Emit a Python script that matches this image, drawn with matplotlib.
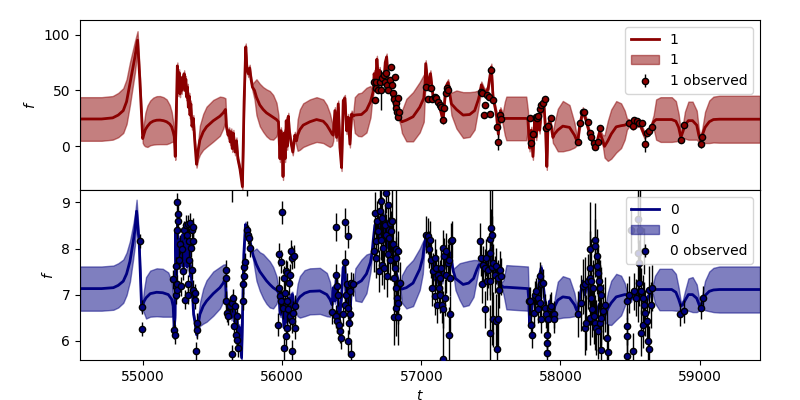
import matplotlib
matplotlib.use("Agg")
import matplotlib.pyplot as plt
import numpy as np

# GP mean / std for band "1" (top)
tg1 = [54545, 54700, 54780, 54820, 54856, 54880, 54904, 54925, 54940, 54959, 54975, 54996,
       55005, 55015, 55030, 55050, 55072, 55096, 55120, 55145, 55168, 55190, 55204, 55215, 55223, 55230,
       55245, 55252, 55258, 55264, 55270, 55276, 55282, 55288, 55294, 55300, 55306, 55312, 55318, 55324,
       55330, 55336, 55342, 55350, 55360, 55370, 55383,
       55395, 55407, 55431, 55455, 55503, 55551, 55575, 55591,
       55598, 55610, 55618, 55625, 55633, 55640, 55648, 55660, 55670, 55680, 55695, 55713, 55725, 55737,
       55745, 55755, 55765, 55775, 55785,
       55800, 55814, 55838, 55862, 55886, 55910, 55934, 55958, 55972,
       55983, 55990, 55998, 56005, 56013, 56020, 56028, 56035, 56043, 56050, 56060, 56075, 56090, 56102,
       56110, 56126, 56150, 56198, 56246, 56294, 56320, 56342, 56358, 56366,
       56378, 56390, 56402, 56414, 56426, 56438, 56450, 56462, 56474, 56486, 56498, 56510,
       56521, 56545, 56569, 56605, 56634, 56645,
       56655, 56660, 56670, 56680, 56690, 56700, 56710, 56720, 56730, 56740, 56750, 56760, 56770, 56780,
       56790, 56800, 56810, 56820, 56835, 56850,
       56860, 56892, 56940, 56988, 57017, 57026,
       57031, 57048, 57065, 57084, 57108, 57132, 57156, 57175, 57192, 57200,
       57216, 57252, 57300, 57347, 57383, 57410, 57425,
       57431, 57455, 57479, 57503, 57515, 57539, 57553, 57568, 57585,
       57600, 57611, 57754, 57766,
       57778, 57790, 57802, 57814, 57826, 57838, 57850, 57862, 57879, 57893, 57902, 57910, 57922, 57934, 57946,
       57957, 57981, 58017, 58065, 58101, 58118,
       58125, 58137, 58161, 58185, 58209, 58233, 58257, 58281, 58305,
       58317, 58341, 58365, 58401, 58436, 58462, 58478,
       58496, 58520, 58544, 58568, 58604, 58628, 58652, 58670,
       58688, 58720, 58800, 58830, 58850, 58866, 58880, 58895, 58920, 58950, 58980, 58995, 59006, 59020,
       59040, 59070, 59100, 59143, 59435]
mu1 = [24.5, 24.5, 25.5, 28, 32, 40, 56, 70, 80, 95, 60, 7,
       11, 15, 18, 21, 22.6, 23.4, 23.5, 23, 22, 20, 17.5, 13, 8.6, -9,
       72, 48, 66, 47, 59, 50, 62, 53, 65, 50, 60, 44, 53, 35,
       45, 28, 38, 18, 25, 5, -16,
       -3.3, 5.6, 13, 17.5, 22.9, 27, 30, 33,
       17.5, 10, 14, 4, 13, -2, 11.7, -5, 5, -11, -20, -36, 40, 89,
       70, 65, 70, 60, 53,
       50, 44, 37, 33, 30, 28, 26, 24, 22,
       -11, 14, 0, -27, 12, -11, 23, 0, 27, 14, 5, -5, 10, 5,
       10, 15, 19, 22, 24, 22.5, 19, 14.5, 11, 10,
       32, 8, 38, -1, -19, 41, 43, 14, 26, 2, 29, 27,
       28, 28.3, 28.5, 32.4, 40, 45,
       50, 65, 55, 78, 60, 68, 55, 62, 58, 75, 80, 60, 55, 50,
       45, 40, 35, 30, 28, 24,
       22, 23.5, 26.5, 35, 43, 55,
       74, 53, 65, 44, 41, 35, 23, 53, 57, 50,
       38, 33, 28, 28.5, 32, 42, 50,
       55, 48, 51, 71, 44, 29, 11, 32, 25,
       25, 25, 25, 24,
       -1.5, 14.5, -9, 23, 8.6, 26, 14.5, 32, 41, 14.5, -18, 17.5, 23, 17, 8,
       11, 14.6, 18.1, 17, 10, 5,
       5, 17.5, 32, 23, 11.6, 3, 1, 13, 5,
       0, 5, 11, 17.5, 18.5, 19, 20,
       21, 18, 20, 21, 10, 13, 17, 22,
       24, 24, 24, 22.5, 17, 8, 13, 19, 23, 23, 19, 10, 5.6, 10,
       17, 22, 24, 24.3, 24.3]
sd1 = [19.5, 19.5, 19.5, 19.8, 20, 20, 19, 16, 14, 8, 5, 4,
       10, 15, 18.5, 20, 21, 21.5, 21.5, 21, 20, 17, 13.5, 9, 5, 3,
       3, 3, 3, 3, 3, 3, 3, 3, 3, 3, 3, 3, 3, 3,
       3, 3, 3, 3, 3, 3, 3,
       8, 13, 16, 18, 18.6, 17.5, 14, 10,
       3, 3, 3, 3, 3, 3, 3, 3, 3, 3, 3, 3, 3, 3,
       3, 3, 3, 3, 3,
       8, 16, 19, 20, 21, 21.5, 20, 15, 6,
       3, 3, 3, 3, 3, 3, 3, 3, 3, 3, 3, 3, 3, 5,
       14, 18, 19.5, 20, 20, 19.5, 18, 15, 10, 5,
       3, 3, 3, 3, 3, 3, 3, 3, 3, 3, 3, 3,
       16, 19, 19.5, 20, 14, 5,
       3, 3, 3, 3, 3, 3, 3, 3, 3, 3, 3, 3, 3, 3,
       3, 3, 3, 3, 3, 5,
       10, 19, 22, 22.5, 21, 8,
       3, 3, 3, 3, 3, 3, 3, 3, 3, 5,
       10, 17, 20.5, 20, 17, 8, 4,
       3, 3, 3, 3, 3, 3, 3, 3, 5,
       15, 19.5, 19.5, 8,
       3, 3, 3, 3, 3, 3, 3, 3, 3, 3, 3, 3, 3, 3, 5,
       10, 19, 22.5, 20, 11, 4,
       3, 3, 3, 3, 3, 3, 3, 3, 5,
       10, 18, 22, 23, 20, 13, 5,
       3, 3, 3, 3, 3, 3, 3, 6,
       18, 20, 20, 18, 12, 5, 6, 12, 17, 17, 13, 6, 3, 6,
       14, 19, 20.5, 21, 21]

# GP mean / std for band "0" (bottom)
tg0 = [54545, 54700, 54785, 54820, 54856, 54880, 54904, 54925, 54940, 54952, 54971, 54988,
       54995, 55005, 55020, 55050, 55096, 55140, 55180, 55204, 55215, 55222,
       55228, 55234, 55240, 55246, 55252, 55258, 55264, 55270, 55276, 55283, 55290, 55296, 55302, 55308,
       55314, 55320, 55326, 55332, 55338, 55344, 55350, 55356, 55362, 55372, 55383,
       55395, 55407, 55431, 55455, 55503, 55551, 55575, 55590,
       55598, 55610, 55623, 55635, 55647, 55659, 55671, 55680, 55690, 55700, 55707, 55715, 55723, 55735,
       55745, 55755, 55766, 55778, 55790,
       55814, 55838, 55862, 55886, 55910, 55934, 55958, 55972,
       55977, 55983, 55989, 55995, 56001, 56007, 56013, 56019, 56025, 56031, 56037, 56043, 56049, 56055,
       56061, 56067, 56073, 56081, 56090,
       56100, 56110, 56126, 56160, 56198, 56270, 56320, 56342, 56358,
       56366, 56378, 56389, 56400, 56409, 56418, 56425, 56437, 56449, 56461, 56473, 56485, 56497, 56509, 56515,
       56525, 56569, 56605, 56634, 56645,
       56653, 56665, 56677, 56689, 56701, 56713, 56725, 56737, 56749, 56761, 56773, 56785, 56797, 56809,
       56821, 56833, 56845, 56850,
       56860, 56892, 56940, 56988, 57010, 57022,
       57031, 57043, 57055, 57067, 57079, 57091, 57103, 57115, 57127, 57139, 57151, 57163, 57175, 57187,
       57199, 57211, 57223, 57230,
       57245, 57275, 57300, 57340, 57375, 57400, 57415,
       57431, 57443, 57455, 57467, 57479, 57491, 57503, 57515, 57527, 57539, 57551, 57563, 57575, 57590,
       57611, 57766,
       57772, 57778, 57790, 57802, 57814, 57826, 57838, 57850, 57862, 57874, 57886, 57898, 57910, 57922,
       57934, 57950,
       57960, 57981, 58017, 58065, 58101, 58118,
       58125, 58137, 58149, 58161, 58173, 58185, 58197, 58209, 58221, 58233, 58245, 58257, 58269, 58281,
       58293, 58305, 58310,
       58320, 58341, 58365, 58401, 58436, 58462, 58478,
       58490, 58508, 58520, 58532, 58544, 58556, 58568, 58580, 58592, 58604, 58616, 58628, 58640, 58652, 58664,
       58680, 58712, 58800, 58830, 58850, 58866, 58880, 58895, 58920, 58950, 58980, 58995, 59006, 59020,
       59040, 59070, 59100, 59143, 59435]
mu0 = [7.13, 7.13, 7.15, 7.2, 7.29, 7.45, 7.72, 8.1, 8.4, 8.81, 8.09, 6.71,
       6.75, 6.85, 6.93, 7.02, 7.05, 7.04, 7.0, 6.9, 6.75, 6.28,
       6.5, 8.37, 7.4, 8.6, 7.7, 8.2, 7.6, 8.1, 7.7, 8.3, 7.6, 8.2, 7.8, 8.4,
       7.6, 8.2, 7.7, 8.0, 7.4, 7.6, 7.1, 6.9, 6.57, 6.4, 6.13,
       6.35, 6.57, 6.75, 6.86, 7.02, 7.15, 7.25, 7.36,
       6.86, 6.6, 6.75, 6.5, 6.8, 6.4, 6.6, 6.2, 6.3, 5.9, 5.63, 6.8, 7.87, 8.52,
       8.3, 8.4, 8.16, 8.0, 7.85,
       7.65, 7.5, 7.4, 7.3, 7.22, 7.15, 7.1, 7.05,
       6.93, 6.6, 6.57, 7.0, 6.93, 6.5, 6.28, 6.9, 6.78, 6.4, 6.42, 6.9, 6.93, 6.5,
       6.57, 7.0, 7.0, 6.8, 6.71,
       6.8, 6.88, 6.95, 7.03, 7.07, 7.08, 7.0, 6.9, 6.78,
       7.15, 6.86, 7.44, 6.9, 6.42, 6.7, 6.93, 7.58, 7.65, 6.71, 7.15, 6.42, 7.22, 7.22, 7.22,
       7.22, 7.3, 7.45, 7.7, 7.9,
       8.16, 8.5, 8.59, 8.2, 8.3, 8.8, 8.74, 8.3, 8.01, 8.6, 8.45, 8.1, 7.87, 7.6,
       7.44, 7.3, 7.15, 7.15,
       7.12, 7.15, 7.25, 7.55, 7.8, 8.1,
       8.23, 8.0, 8.1, 7.8, 7.6, 7.7, 7.3, 7.4, 7.2, 7.5, 7.3, 7.6, 7.7, 7.9,
       7.72, 7.9, 7.6, 7.5,
       7.35, 7.28, 7.22, 7.25, 7.35, 7.55, 7.65,
       7.65, 7.5, 7.6, 7.51, 7.7, 7.9, 8.01, 7.6, 7.44, 7.5, 7.3, 7.15, 7.2, 7.16,
       7.16, 7.13,
       6.9, 6.35, 6.6, 6.93, 6.8, 7.15, 6.9, 7.44, 7.58, 7.29, 6.9, 6.71, 6.6, 6.86,
       6.7, 6.6,
       6.75, 6.88, 6.95, 6.93, 6.78, 6.65,
       6.65, 6.93, 7.1, 7.29, 7.0, 7.15, 7.3, 6.86, 7.0, 6.71, 6.9, 6.57, 6.7, 6.8,
       6.6, 6.57, 6.55,
       6.55, 6.7, 6.82, 6.95, 6.98, 7.0, 7.0,
       7.0, 6.9, 7.05, 7.0, 6.95, 7.1, 7.07, 6.9, 7.0, 6.93, 6.8, 6.95, 7.0, 7.05, 7.11,
       7.11, 7.11, 7.11, 7.05, 6.9, 6.75, 6.78, 6.87, 7.0, 7.0, 6.92, 6.8, 6.71, 6.85,
       6.98, 7.07, 7.1, 7.11, 7.11]
sd0 = [0.48, 0.48, 0.48, 0.48, 0.47, 0.46, 0.44, 0.38, 0.33, 0.25, 0.1, 0.08,
       0.08, 0.25, 0.45, 0.5, 0.52, 0.52, 0.48, 0.38, 0.2, 0.1,
       0.06, 0.06, 0.06, 0.06, 0.06, 0.06, 0.06, 0.06, 0.06, 0.06, 0.06, 0.06, 0.06, 0.06,
       0.06, 0.06, 0.06, 0.06, 0.06, 0.06, 0.06, 0.06, 0.06, 0.06, 0.06,
       0.15, 0.25, 0.38, 0.45, 0.48, 0.45, 0.4, 0.3,
       0.06, 0.06, 0.06, 0.06, 0.06, 0.06, 0.06, 0.06, 0.06, 0.06, 0.06, 0.06, 0.06, 0.06,
       0.06, 0.06, 0.06, 0.06, 0.1,
       0.35, 0.42, 0.48, 0.5, 0.5, 0.45, 0.3, 0.1,
       0.06, 0.06, 0.06, 0.06, 0.06, 0.06, 0.06, 0.06, 0.06, 0.06, 0.06, 0.06, 0.06, 0.06,
       0.06, 0.06, 0.06, 0.06, 0.1,
       0.2, 0.35, 0.45, 0.5, 0.5, 0.5, 0.47, 0.38, 0.15,
       0.06, 0.06, 0.06, 0.06, 0.06, 0.06, 0.06, 0.06, 0.06, 0.06, 0.06, 0.06, 0.06, 0.06, 0.06,
       0.35, 0.46, 0.42, 0.2, 0.06,
       0.06, 0.06, 0.06, 0.06, 0.06, 0.06, 0.06, 0.06, 0.06, 0.06, 0.06, 0.06, 0.06, 0.06,
       0.06, 0.06, 0.06, 0.06,
       0.3, 0.45, 0.5, 0.45, 0.35, 0.1,
       0.06, 0.06, 0.06, 0.06, 0.06, 0.06, 0.06, 0.06, 0.06, 0.06, 0.06, 0.06, 0.06, 0.06,
       0.06, 0.06, 0.06, 0.06,
       0.25, 0.4, 0.48, 0.48, 0.4, 0.2, 0.06,
       0.06, 0.06, 0.06, 0.06, 0.06, 0.06, 0.06, 0.06, 0.06, 0.06, 0.06, 0.06, 0.06, 0.15,
       0.48, 0.48,
       0.1, 0.06, 0.06, 0.06, 0.06, 0.06, 0.06, 0.06, 0.06, 0.06, 0.06, 0.06, 0.06, 0.06,
       0.06, 0.06,
       0.2, 0.4, 0.45, 0.42, 0.25, 0.06,
       0.06, 0.06, 0.06, 0.06, 0.06, 0.06, 0.06, 0.06, 0.06, 0.06, 0.06, 0.06, 0.06, 0.06,
       0.06, 0.06, 0.06,
       0.15, 0.35, 0.48, 0.5, 0.43, 0.25, 0.06,
       0.06, 0.06, 0.06, 0.06, 0.06, 0.06, 0.06, 0.06, 0.06, 0.06, 0.06, 0.06, 0.06, 0.06, 0.1,
       0.3, 0.45, 0.45, 0.4, 0.25, 0.08, 0.1, 0.2, 0.35, 0.38, 0.3, 0.15, 0.06, 0.15,
       0.32, 0.43, 0.48, 0.5, 0.5]

# observed points, band "1"
t1 = [56660, 56667, 56672, 56677, 56689, 56701, 56713, 56720, 56730, 56739, 56749, 56756, 56763, 56773,
      56780, 56787, 56797, 56804, 56811, 56816, 56821, 56828, 56830, 56835, 56840,
      57036, 57048, 57072, 57079, 57096, 57108, 57120, 57132, 57144, 57156, 57161, 57180, 57185, 57192,
      57431, 57438, 57448, 57458, 57472, 57486, 57496, 57503, 57515, 57544, 57553, 57568, 57575,
      57778, 57790, 57802, 57821, 57831, 57838, 57854, 57862, 57874, 57886, 57898, 57914, 57929,
      58125, 58144, 58161, 58168, 58197, 58209, 58223, 58238, 58252, 58269, 58281,
      58496, 58520, 58532, 58549, 58568, 58585, 58611, 58623, 58640, 58657,
      58868, 58891, 59009, 59018]
f1 = [57.7, 41.4, 52.4, 57.7, 50.3, 57.7, 50.3, 60.7, 63.7, 57.7, 65.2, 54.7, 50.3, 59.2,
      71.1, 54.7, 47.3, 42.8, 62.2, 38.4, 33.9, 31.0, 43.7, 26.5, 31.0,
      53.3, 42.8, 51.8, 42.8, 44.3, 43.7, 39.9, 36.9, 35.4, 23.5, 33.9, 47.3, 51.8, 50.3,
      48.8, 47.3, 27.9, 36.9, 45.8, 44.3, 29.4, 68.1, 41.4, 16.9, 4.1, 27.9, 24.1,
      25.0, 3.2, 10.7, 26.5, 25.0, 27.4, 33.0, 36.9, 38.4, 42.2, 16.0, 18.1, 25.0,
      3.5, 20.5, 30.9, 30.3, 21.4, 11.6, 8.0, 3.2, -0.3, 3.5, 16.0,
      20.5, 18.1, 23.5, 22.9, 20.5, 20.5, 2.1, 11.6, 14.0, 17.0,
      5.6, 18.7, 1.8, 8.0]
e1 = [2, 2, 2, 2, 2, 2, 18, 2, 2, 2, 2, 2, 2, 2,
      2, 2, 2, 2, 2, 2, 2, 2, 2, 2, 2,
      2, 2, 2, 2, 2, 2, 2, 2, 2, 2, 2, 2, 2, 2,
      2, 2, 2, 2, 2, 2, 2, 3, 2, 2, 7, 2, 2,
      2, 2, 2, 2, 2, 2, 2, 2, 2, 2, 2, 2, 2,
      2, 2, 2, 2, 2, 2, 2, 2, 2, 2, 2,
      2, 2, 2, 2, 2, 2, 7, 2, 2, 2,
      2, 2, 3, 2]

# observed points, band "0"
t0 = [54976, 54990, 54990,
      55216, 55220, 55228, 55232, 55235, 55240, 55240, 55244, 55245, 55247, 55252, 55259, 55264, 55271,
      55275, 55283, 55295, 55299, 55307, 55316, 55323, 55323, 55323, 55330, 55330, 55335, 55340, 55347,
      55354, 55359, 55359, 55359, 55369, 55371, 55378, 55383, 55388,
      55592, 55592, 55594, 55599, 55611, 55623, 55635, 55635, 55640, 55647, 55652, 55659, 55666, 55671,
      55676, 55683, 55714, 55719, 55723, 55726, 55735, 55743, 55745, 55750, 55759, 55766,
      55970, 55977, 55977, 55982, 55989, 55994, 56001, 56006, 56011, 56011, 56018, 56025, 56025, 56030,
      56035, 56035, 56042, 56049, 56054, 56054, 56059, 56066, 56066, 56066, 56078, 56083, 56090, 56090,
      56358, 56385, 56389, 56389, 56394, 56394, 56401, 56409, 56418, 56425, 56437, 56449, 56449, 56454,
      56461, 56468, 56471, 56473, 56473, 56480, 56485, 56490, 56492, 56497, 56509,
      56658, 56665, 56672, 56677, 56682, 56689, 56696, 56701, 56706, 56713, 56720, 56720, 56725, 56730,
      56737, 56744, 56749, 56754, 56761, 56761, 56768, 56773, 56777, 56785, 56790, 56797, 56801, 56801,
      56809, 56816, 56818, 56821, 56821, 56826, 56833, 56833, 56835, 56845,
      57031, 57048, 57055, 57065, 57072, 57084, 57079, 57096, 57096, 57108, 57113, 57120, 57127, 57132,
      57132, 57144, 57151, 57156, 57156, 57156, 57161, 57168, 57175, 57180, 57192, 57199, 57199, 57204,
      57209, 57216, 57223,
      57419, 57431, 57438, 57443, 57455, 57455, 57467, 57472, 57479, 57490, 57491, 57491, 57496, 57503,
      57510, 57510, 57515, 57515, 57527, 57539, 57539, 57544, 57551, 57551, 57558, 57563, 57575, 57774,
      57778, 57790, 57797, 57807, 57814, 57826, 57838, 57838, 57850, 57850, 57862, 57862, 57874, 57886,
      57898, 57902, 57902, 57902, 57910, 57922, 57934, 57957, 57957,
      58125, 58149, 58161, 58173, 58173, 58185, 58197, 58209, 58209, 58210, 58214, 58221, 58222, 58228,
      58233, 58238, 58245, 58245, 58252, 58257, 58262, 58262, 58269, 58269, 58276, 58281, 58281, 58293,
      58293, 58293, 58305, 58317, 58334, 58341,
      58477, 58477, 58477, 58477, 58496, 58508, 58520, 58532, 58544, 58556, 58560, 58563, 58568, 58575,
      58580, 58580, 58592, 58597, 58604, 58604, 58611, 58621, 58628, 58635, 58640, 58652, 58659,
      58860, 58891, 59011, 59023]
f0 = [8.16, 6.73, 6.26,
      7.33, 6.24, 6.13, 7.0, 7.62, 8.40, 7.22, 9.01, 7.11, 8.74, 8.59, 7.76, 8.09, 7.18,
      7.98, 7.51, 8.40, 6.89, 8.52, 8.30, 8.53, 7.22, 7.0, 8.16, 7.76, 8.56, 8.01, 8.41,
      7.54, 8.46, 8.17, 7.11, 7.04, 6.89, 5.77, 6.39, 6.24,
      7.54, 7.36, 6.87, 6.6, 6.53, 6.75, 6.82, 5.71, 9.35, 6.93, 6.31, 6.75, 6.13, 6.53,
      6.02, 5.84, 7.22, 6.86, 7.59, 7.4, 7.71, 8.40, 9.35, 8.30, 8.23, 8.01,
      6.35, 7.87, 7.15, 6.96, 7.71, 6.86, 8.79, 6.71, 7.36, 5.84, 7.04, 7.51, 6.1, 6.86,
      7.47, 6.28, 6.68, 7.25, 7.42, 6.53, 7.94, 7.8, 6.42, 5.77, 6.6, 7.83, 6.75, 6.28,
      6.62, 6.53, 8.47, 7.42, 7.18, 6.42, 7.0, 6.35, 6.2, 6.06, 6.57, 8.57, 6.78, 7.71,
      7.0, 7.22, 5.99, 8.27, 6.71, 6.39, 6.57, 7.07, 5.71, 7.25, 7.22,
      7.94, 8.77, 8.16, 7.8, 8.59, 8.37, 7.51, 8.81, 8.19, 9.03, 8.66, 7.65, 8.01, 7.58,
      8.52, 8.3, 9.21, 7.4, 8.95, 7.87, 8.23, 8.56, 7.76, 8.37, 8.6, 8.09, 7.36, 6.51,
      7.58, 7.15, 8.0, 7.8, 6.71, 6.93, 7.94, 6.51, 6.82, 7.25,
      8.3, 8.27, 7.98, 8.19, 7.76, 7.51, 7.15, 7.8, 6.96, 7.58, 6.78, 7.43, 7.15, 7.36,
      7.0, 7.58, 6.78, 8.01, 6.68, 5.61, 7.83, 6.93, 7.94, 7.43, 7.69, 7.76, 6.13, 7.36,
      6.57, 8.16, 8.19,
      8.16, 7.8, 7.22, 7.65, 7.58, 6.68, 7.8, 7.29, 7.54, 8.2, 7.91, 6.17, 7.29, 8.45,
      8.3, 7.6, 7.69, 6.46, 7.43, 7.62, 6.42, 5.81, 7.36, 6.46, 7.11, 7.54, 7.4, 6.86,
      6.86, 6.35, 6.13, 6.6, 7.0, 7.07, 6.93, 6.68, 7.4, 6.82, 7.22, 6.46, 7.25, 6.71,
      6.57, 6.13, 5.95, 5.74, 6.46, 6.71, 6.75, 6.57, 6.46,
      6.57, 6.82, 7.18, 7.22, 6.28, 6.39, 7.29, 7.58, 6.5, 8.0, 7.36, 6.93, 7.3, 6.68,
      7.15, 6.53, 8.19, 6.39, 8.05, 6.28, 7.83, 7.62, 7.47, 6.2, 7.29, 7.15, 6.39, 7.0,
      6.5, 5.79, 6.64, 6.78, 6.06, 5.76,
      6.86, 6.31, 6.1, 5.66, 7.0, 8.41, 5.77, 7.07, 6.93, 8.63, 7.9, 7.69, 7.25, 8.4,
      7.07, 6.17, 6.93, 6.35, 7.95, 6.78, 6.6, 6.42, 5.99, 7.11, 5.81, 6.78, 7.15,
      6.57, 6.64, 6.71, 6.93]
e0 = [0.15, 0.15, 0.15,
      0.2, 0.2, 0.2, 0.2, 0.2, 0.2, 0.2, 0.2, 0.2, 0.2, 0.2, 0.2, 0.2, 0.2,
      0.2, 0.2, 0.2, 0.2, 0.2, 0.2, 0.2, 0.2, 0.2, 0.2, 0.2, 0.2, 0.2, 0.2,
      0.2, 0.2, 0.2, 0.2, 0.2, 0.2, 0.2, 0.2, 0.2,
      0.2, 0.2, 0.2, 0.2, 0.2, 0.2, 0.2, 0.2, 0.35, 0.2, 0.2, 0.2, 0.2, 0.2,
      0.2, 0.2, 0.2, 0.2, 0.2, 0.2, 0.2, 0.2, 0.2, 0.2, 0.2, 0.2,
      0.25, 0.25, 0.25, 0.25, 0.25, 0.25, 0.25, 0.25, 0.25, 0.25, 0.25, 0.25, 0.25, 0.25,
      0.25, 0.25, 0.25, 0.25, 0.25, 0.25, 0.25, 0.25, 0.25, 0.25, 0.25, 0.25, 0.25, 0.25,
      0.25, 0.25, 0.3, 0.25, 0.25, 0.25, 0.25, 0.25, 0.25, 0.25, 0.25, 0.3, 0.25, 0.25,
      0.25, 0.25, 0.25, 0.25, 0.25, 0.25, 0.25, 0.25, 0.25, 0.25, 0.25,
      0.45, 0.45, 0.45, 0.45, 0.45, 0.45, 0.45, 0.45, 0.45, 0.45, 0.45, 0.45, 0.45, 0.45,
      0.45, 0.45, 0.45, 0.45, 0.45, 0.45, 0.45, 0.45, 0.45, 0.45, 1.0, 0.45, 0.45, 0.6,
      0.45, 0.45, 1.4, 0.45, 0.6, 0.45, 0.45, 0.6, 0.45, 0.45,
      0.4, 0.4, 0.4, 0.4, 0.4, 0.4, 0.4, 0.4, 0.4, 0.4, 0.4, 0.4, 0.4, 0.4,
      0.4, 0.4, 0.4, 0.4, 0.4, 0.9, 0.4, 0.4, 0.4, 0.4, 0.4, 0.4, 0.6, 0.4,
      0.4, 0.4, 0.4,
      0.4, 0.4, 0.4, 0.4, 0.4, 0.4, 0.4, 0.4, 0.4, 1.2, 0.4, 0.6, 0.4, 0.4,
      0.4, 1.7, 0.4, 0.6, 0.4, 0.4, 0.6, 0.6, 0.4, 0.6, 0.4, 0.4, 0.4, 0.3,
      0.3, 0.3, 0.3, 0.3, 0.3, 0.3, 0.3, 0.3, 0.3, 0.3, 0.3, 0.3, 0.3, 0.3,
      0.3, 0.3, 0.3, 0.3, 0.3, 0.3, 0.3, 0.3, 0.3,
      0.5, 0.6, 0.6, 0.6, 0.6, 0.6, 0.6, 0.8, 0.6, 1.0, 0.6, 0.6, 0.9, 0.6,
      0.6, 0.6, 0.8, 0.6, 0.6, 0.6, 0.6, 0.6, 0.6, 0.6, 0.6, 0.6, 0.6, 0.6,
      0.6, 0.6, 0.6, 0.6, 0.6, 0.6,
      0.4, 0.4, 0.4, 0.4, 0.4, 0.5, 0.4, 0.4, 0.4, 0.5, 1.5, 0.5, 0.5, 1.2,
      0.5, 0.5, 0.5, 0.5, 0.5, 0.5, 0.5, 0.5, 0.5, 0.5, 0.5, 0.5, 0.5,
      0.25, 0.25, 0.25, 0.25]

fig, (ax1, ax2) = plt.subplots(2, 1, sharex=True, figsize=(8, 4), dpi=100)
fig.subplots_adjust(left=0.1, right=0.95, top=0.95, bottom=0.1, hspace=0)

panels = [
    (ax1, "1", "darkred", tg1, mu1, sd1, t1, f1, e1, (-39, 113)),
    (ax2, "0", "navy", tg0, mu0, sd0, t0, f0, e0, (5.58, 9.27)),
]
for ax, name, col, tg, mu, sd, tt, ff, ee, ylim in panels:
    tg, mu, sd = np.array(tg), np.array(mu), np.array(sd)
    ax.plot(tg, mu, color=col, lw=2, label=name, zorder=2)
    ax.fill_between(tg, mu - sd, mu + sd, color=col, alpha=0.5, lw=1, label=name, zorder=1)
    ax.errorbar(tt, ff, yerr=ee, fmt="o", ms=4.5, mfc=col, mec="black", mew=1,
                ecolor="black", elinewidth=1, label=name + " observed", zorder=3)
    ax.set_ylim(*ylim)
    ax.set_ylabel("$f$")
    ax.legend(loc="upper right")

ax1.set_yticks([0, 50, 100])
ax2.set_yticks([6, 7, 8, 9])
ax2.set_xlim(54545, 59435)
ax2.set_xlabel("$t$")

fig.savefig("out.png")
